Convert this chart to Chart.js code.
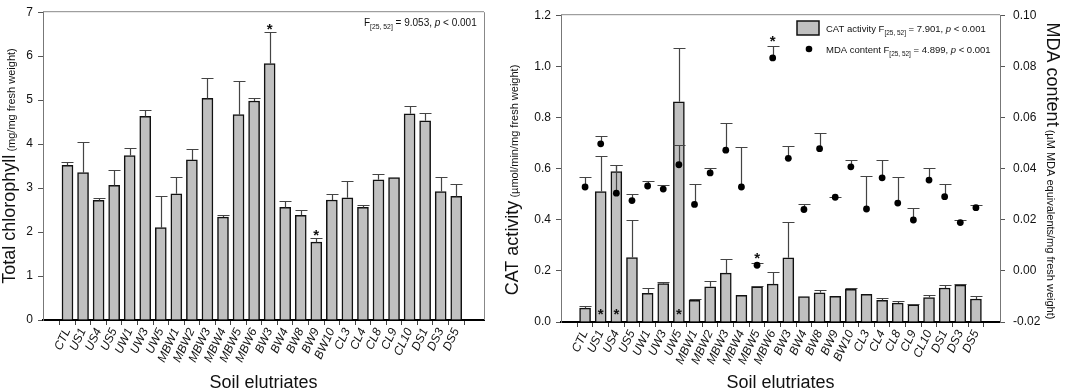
<!DOCTYPE html>
<html>
<head>
<meta charset="utf-8">
<script src="https://cdn.jsdelivr.net/npm/chart.js@4.4.1/dist/chart.umd.min.js"></script>
<style>
  body { margin: 0; background: #fff; }
  .panel { position: absolute; top: 0; height: 391px; }
</style>
</head>
<body>
<div class="panel" style="left:0;width:500px"><canvas id="chl"></canvas></div>
<div class="panel" style="left:500px;width:565px"><canvas id="cat"></canvas></div>
<script>
const sites = ['CTL','US1','US4','US5','UW1','UW3','UW5','MBW1','MBW2','MBW3','MBW4','MBW5','MBW6',
  'BW3','BW4','BW8','BW9','BW10','CL3','CL4','CL8','CL9','CL10','DS1','DS3','DS5'];

// total chlorophyll, mean and top of error bar
const chlMean  = [3.52,3.35,2.72,3.06,3.74,4.63,2.10,2.87,3.64,5.04,2.34,4.67,4.98,5.83,2.56,2.38,1.77,2.73,2.78,2.56,3.19,3.24,4.69,4.53,2.92,2.81];
const chlUpper = [3.60,4.04,2.78,3.42,3.91,4.77,2.81,3.25,3.89,5.51,2.39,5.44,5.06,6.54,2.70,2.51,1.86,2.87,3.15,2.61,3.33,null,4.86,4.71,3.25,3.09];
const chlStars = ['BW3','BW9'];

// CAT activity (bars, left axis)
const catMean  = [0.054,0.510,0.588,0.252,0.112,0.150,0.861,0.085,0.138,0.191,0.104,0.138,0.148,0.251,0.099,0.114,0.100,0.128,0.108,0.085,0.074,0.067,0.096,0.133,0.144,0.090];
const catUpper = [0.063,0.649,0.615,0.398,0.134,0.156,1.072,0.091,0.162,0.245,null,0.142,0.196,0.393,null,0.125,null,0.133,null,0.094,0.081,0.070,0.105,0.144,0.150,0.100];
const catStars = ['US1','US4','UW5'];

// MDA content (points, right axis)
const mdaMean  = [0.0328,0.0497,0.0304,0.0275,0.0332,0.0320,0.0415,0.0260,0.0383,0.0472,0.0328,0.0022,0.0833,0.0440,0.0240,0.0478,0.0288,0.0407,0.0242,0.0364,0.0265,0.0199,0.0355,0.0290,0.0189,0.0247];
const mdaUpper = [0.0366,0.0529,0.0415,0.0300,0.0350,0.0337,0.0493,0.0339,0.0403,0.0579,0.0483,0.0031,0.0880,0.0489,0.0263,0.0540,0.0289,0.0434,0.0370,0.0434,0.0366,0.0247,0.0404,0.0339,0.0199,0.0256];
const mdaStars = ['MBW5','MBW6'];

const chlTicks = { min: 0, max: 7, step: 1 };
const catTicks = { min: 0, max: 1.2, step: 0.2 };
const mdaTicks = { min: -0.02, max: 0.10, step: 0.02 };

const family = '"Liberation Sans", Arial, sans-serif';
const barFill = '#c0c0c0';

Chart.defaults.font.family = family;
Chart.defaults.color = '#111';

function drawParts(ctx, parts, x, y) {
  parts.forEach(p => {
    ctx.font = (p.italic ? 'italic ' : '') + p.size + 'px ' + family;
    ctx.fillText(p.text, x, y + (p.dy || 0));
    x += ctx.measureText(p.text).width;
  });
}

function partsWidth(ctx, parts) {
  let w = 0;
  parts.forEach(p => {
    ctx.font = (p.italic ? 'italic ' : '') + p.size + 'px ' + family;
    w += ctx.measureText(p.text).width;
  });
  return w;
}

function fText(stat, size) {
  return [
    { text: 'F', size: size },
    { text: '[25, 52]', size: size * 0.68, dy: 2.5 },
    { text: ' = ' + stat + ', ', size: size },
    { text: 'p', size: size, italic: true },
    { text: ' < 0.001', size: size }
  ];
}

// vertical axis title, dir -1 reads bottom-to-top, +1 top-to-bottom
function drawTitle(ctx, parts, baseX, centerY, dir) {
  ctx.save();
  ctx.fillStyle = '#111';
  ctx.textBaseline = 'alphabetic';
  ctx.translate(baseX, centerY);
  ctx.rotate(dir * Math.PI / 2);
  drawParts(ctx, parts, -partsWidth(ctx, parts) / 2, 0);
  ctx.restore();
}

function drawErrors(chart, axisId, mean, upper) {
  const ctx = chart.ctx, xs = chart.scales.x, ys = chart.scales[axisId];
  ctx.save();
  ctx.strokeStyle = '#444';
  ctx.lineWidth = 1.2;
  upper.forEach((u, i) => {
    if (u == null) return;
    const px = Math.round(xs.getPixelForValue(i)) + 0.5;
    const y0 = ys.getPixelForValue(mean[i]);
    const y1 = Math.round(ys.getPixelForValue(u)) + 0.5;
    ctx.beginPath();
    ctx.moveTo(px, y0); ctx.lineTo(px, y1);
    ctx.moveTo(px - 6, y1); ctx.lineTo(px + 6, y1);
    ctx.stroke();
  });
  ctx.restore();
}

function drawStar(ctx, x, centerY) {
  ctx.save();
  ctx.fillStyle = '#111';
  ctx.font = 'bold 15px ' + family;
  ctx.textAlign = 'center';
  ctx.textBaseline = 'alphabetic';
  ctx.fillText('*', x, centerY + 8.5);
  ctx.restore();
}

function hLine(ctx, x0, x1, y, color) {
  ctx.save();
  ctx.strokeStyle = color; ctx.lineWidth = 1;
  ctx.beginPath(); ctx.moveTo(x0, y + 0.5); ctx.lineTo(x1, y + 0.5); ctx.stroke();
  ctx.restore();
}

function xAxis(min, max, height) {
  return {
    type: 'linear', min: min, max: max,
    afterBuildTicks: s => { s.ticks = sites.map((_, i) => ({ value: i })); },
    afterFit: s => { s.height = height; },
    ticks: {
      autoSkip: false, minRotation: 65, maxRotation: 65, padding: 1,
      color: '#111', font: { size: 12, style: 'italic' },
      callback: v => sites[Math.round(v)]
    },
    grid: { drawOnChartArea: false, tickLength: 5, color: '#444' },
    border: { color: '#000', width: 2 }
  };
}

function yAxis(t, width, position, digits) {
  return {
    type: 'linear', position: position, min: t.min, max: t.max,
    afterFit: s => { s.width = width; },
    ticks: {
      stepSize: t.step, padding: position === 'right' ? 8 : 5,
      color: '#111', font: { size: 12 },
      callback: v => v.toFixed(digits)
    },
    grid: { drawOnChartArea: false, tickLength: 5, color: '#555' },
    border: { color: '#777', width: 1 }
  };
}

const chlPlugin = {
  id: 'chlExtras',
  afterDatasetsDraw(chart) {
    const ctx = chart.ctx, a = chart.chartArea, xs = chart.scales.x, ys = chart.scales.y;
    drawErrors(chart, 'y', chlMean, chlUpper);
    chlStars.forEach(s => {
      const i = sites.indexOf(s);
      drawStar(ctx, xs.getPixelForValue(i), ys.getPixelForValue(chlUpper[i]) - 7);
    });
    hLine(ctx, a.left, a.right, a.top - 1, '#888');
    ctx.save();
    ctx.strokeStyle = '#888'; ctx.lineWidth = 1;
    ctx.beginPath(); ctx.moveTo(a.right + 0.5, a.top); ctx.lineTo(a.right + 0.5, a.bottom); ctx.stroke();
    ctx.restore();

    ctx.save();
    ctx.fillStyle = '#111';
    drawParts(ctx, fText('9.053', 10), 364, 26);
    ctx.font = '18px ' + family;
    ctx.textAlign = 'center';
    ctx.fillText('Soil elutriates', (a.left + a.right) / 2, 388);
    ctx.restore();

    drawTitle(ctx, [
      { text: 'Total chlorophyll', size: 18 },
      { text: ' (mg/mg fresh weight)', size: 11 }
    ], 15, 166, -1);
  }
};

const catPlugin = {
  id: 'catExtras',
  afterDatasetDraw(chart, args) {
    if (args.index === 0) drawErrors(chart, 'y', catMean, catUpper);
  },
  beforeDatasetDraw(chart, args) {
    if (args.index === 1) drawErrors(chart, 'y2', mdaMean, mdaUpper);
  },
  afterDatasetsDraw(chart) {
    const ctx = chart.ctx, a = chart.chartArea, xs = chart.scales.x;
    const ys = chart.scales.y, y2 = chart.scales.y2;
    catStars.forEach(s => {
      drawStar(ctx, xs.getPixelForValue(sites.indexOf(s)), ys.getPixelForValue(0.044));
    });
    mdaStars.forEach(s => {
      const i = sites.indexOf(s);
      drawStar(ctx, xs.getPixelForValue(i), y2.getPixelForValue(mdaUpper[i]) - 8);
    });
    hLine(ctx, a.left, a.right, a.top - 1, '#888');

    // legend
    ctx.save();
    ctx.fillStyle = barFill; ctx.strokeStyle = '#111'; ctx.lineWidth = 1.5;
    ctx.fillRect(297, 21, 22, 14); ctx.strokeRect(297, 21, 22, 14);
    ctx.fillStyle = '#000';
    ctx.beginPath(); ctx.arc(309, 49, 3.3, 0, Math.PI * 2); ctx.fill();
    ctx.fillStyle = '#111';
    drawParts(ctx, [{ text: 'CAT activity ', size: 9.5 }].concat(fText('7.901', 9.5)), 326, 32);
    drawParts(ctx, [{ text: 'MDA content ', size: 9.5 }].concat(fText('4.899', 9.5)), 326, 53);
    ctx.font = '18px ' + family;
    ctx.textAlign = 'center';
    ctx.fillText('Soil elutriates', (a.left + a.right) / 2, 388);
    ctx.restore();

    drawTitle(ctx, [
      { text: 'CAT activity', size: 18 },
      { text: ' (\u00b5mol/min/mg fresh weight)', size: 11 }
    ], 18, 180, -1);
    drawTitle(ctx, [
      { text: 'MDA content', size: 18 },
      { text: ' (\u00b5M MDA equivalents/mg fresh weight)', size: 11 }
    ], 547, 171, 1);
  }
};

new Chart(document.getElementById('chl'), {
  type: 'bar',
  data: {
    datasets: [{
      data: sites.map((s, i) => ({ x: i, y: chlMean[i] })),
      backgroundColor: barFill, borderColor: '#111', borderWidth: 1.5,
      barThickness: 11
    }]
  },
  options: {
    responsive: true, maintainAspectRatio: false, animation: false,
    layout: { padding: { top: 4, right: 16, left: 0, bottom: 0 } },
    plugins: { legend: { display: false }, tooltip: { enabled: false } },
    scales: {
      x: xAxis(-1.03, 26.24, 71),
      y: yAxis(chlTicks, 43, 'left', 0)
    }
  },
  plugins: [chlPlugin]
});

new Chart(document.getElementById('cat'), {
  type: 'bar',
  data: {
    datasets: [{
      type: 'bar', order: 2, yAxisID: 'y',
      data: sites.map((s, i) => ({ x: i, y: catMean[i] })),
      backgroundColor: barFill, borderColor: '#111', borderWidth: 1.5,
      barThickness: 11
    }, {
      type: 'line', order: 1, yAxisID: 'y2', showLine: false,
      data: sites.map((s, i) => ({ x: i, y: mdaMean[i] })),
      pointRadius: 3.4, pointBackgroundColor: '#000', pointBorderWidth: 0
    }]
  },
  options: {
    responsive: true, maintainAspectRatio: false, animation: false,
    layout: { padding: { top: 6, right: 0, left: 0, bottom: 0 } },
    plugins: { legend: { display: false }, tooltip: { enabled: false } },
    scales: {
      x: xAxis(-1, 26, 69),
      y: yAxis(catTicks, 61, 'left', 1),
      y2: yAxis(mdaTicks, 65, 'right', 2)
    }
  },
  plugins: [catPlugin]
});
</script>
</body>
</html>
